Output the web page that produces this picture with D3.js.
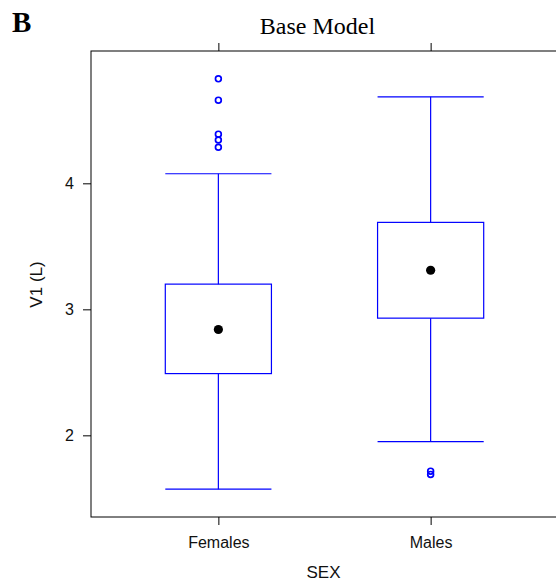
<!DOCTYPE html>
<html>
<head>
<meta charset="utf-8">
<script src="https://cdn.jsdelivr.net/npm/d3@7"></script>
<style>
  html, body { margin: 0; padding: 0; background: #fff; }
  svg { display: block; }
</style>
</head>
<body>
<div id="chart"></div>
<script>
// Box-plot summary of V1 (L) by sex
const categories = ["Females", "Males"];
const lowerWhisker = [1.573, 1.95];
const q1 = [2.49, 2.93];
const median = [2.84, 3.31];
const q3 = [3.2, 3.69];
const upperWhisker = [4.076, 4.686];
const outliersFemales = [4.829, 4.66, 4.39, 4.344, 4.286];
const outliersMales = [1.716, 1.69];
const yTicks = [2, 3, 4];

const outliers = [outliersFemales, outliersMales];

const W = 556, H = 588;
const panel = { left: 91, right: 558, top: 51, bottom: 517 };

const svg = d3.select("#chart").append("svg")
  .attr("width", W).attr("height", H);

const x = d3.scalePoint()
  .domain(categories)
  .range([panel.left, panel.right])
  .padding(0.6);

const y = d3.scaleLinear()
  .domain([1.352, 5.05])
  .range([panel.bottom, panel.top]);

const boxW = x.step() * 0.5;
const blue = "#0000ff";

// panel frame
svg.append("rect")
  .attr("x", panel.left).attr("y", panel.top)
  .attr("width", panel.right - panel.left)
  .attr("height", panel.bottom - panel.top)
  .attr("fill", "none").attr("stroke", "#000").attr("stroke-width", 1);

// left axis
const gy = svg.append("g")
  .attr("transform", `translate(${panel.left},0)`)
  .call(d3.axisLeft(y).tickValues(yTicks).tickSize(8).tickPadding(9).tickFormat(d3.format("d")));
gy.select(".domain").remove();
gy.selectAll("text").attr("font-family", "Liberation Sans, Arial, sans-serif")
  .attr("font-size", 16).attr("fill", "#111");

// bottom axis
const gx = svg.append("g")
  .attr("transform", `translate(0,${panel.bottom})`)
  .call(d3.axisBottom(x).tickSize(8).tickPadding(9));
gx.select(".domain").remove();
gx.selectAll("text").attr("font-family", "Liberation Sans, Arial, sans-serif")
  .attr("font-size", 16).attr("fill", "#111").attr("dy", "0.85em");

// top axis ticks (no labels)
const gt = svg.append("g")
  .attr("transform", `translate(0,${panel.top})`)
  .call(d3.axisTop(x).tickSize(8).tickFormat(""));
gt.select(".domain").remove();

// boxes
const boxes = svg.append("g").selectAll("g")
  .data(categories.map((c, i) => ({
    c, lo: lowerWhisker[i], q1: q1[i], med: median[i], q3: q3[i], hi: upperWhisker[i], out: outliers[i]
  })))
  .join("g");

boxes.append("line")
  .attr("x1", d => x(d.c)).attr("x2", d => x(d.c))
  .attr("y1", d => y(d.q3)).attr("y2", d => y(d.hi))
  .attr("stroke", blue).attr("stroke-width", 1.2);
boxes.append("line")
  .attr("x1", d => x(d.c)).attr("x2", d => x(d.c))
  .attr("y1", d => y(d.q1)).attr("y2", d => y(d.lo))
  .attr("stroke", blue).attr("stroke-width", 1.2);
boxes.append("line")
  .attr("x1", d => x(d.c) - boxW / 2).attr("x2", d => x(d.c) + boxW / 2)
  .attr("y1", d => y(d.hi)).attr("y2", d => y(d.hi))
  .attr("stroke", blue).attr("stroke-width", 1.2);
boxes.append("line")
  .attr("x1", d => x(d.c) - boxW / 2).attr("x2", d => x(d.c) + boxW / 2)
  .attr("y1", d => y(d.lo)).attr("y2", d => y(d.lo))
  .attr("stroke", blue).attr("stroke-width", 1.2);
boxes.append("rect")
  .attr("x", d => x(d.c) - boxW / 2).attr("width", boxW)
  .attr("y", d => y(d.q3)).attr("height", d => y(d.q1) - y(d.q3))
  .attr("fill", "none").attr("stroke", blue).attr("stroke-width", 1.2);
boxes.append("circle")
  .attr("cx", d => x(d.c)).attr("cy", d => y(d.med)).attr("r", 4.6)
  .attr("fill", "#000");
boxes.selectAll("circle.out")
  .data(d => d.out.map(v => ({ c: d.c, v })))
  .join("circle")
  .attr("class", "out")
  .attr("cx", d => x(d.c)).attr("cy", d => y(d.v)).attr("r", 2.9)
  .attr("fill", "none").attr("stroke", blue).attr("stroke-width", 1.7);

// titles and labels
svg.append("text")
  .attr("x", 317.5).attr("y", 34)
  .attr("text-anchor", "middle")
  .attr("font-family", "Liberation Serif, Times New Roman, serif")
  .attr("font-size", 24).attr("fill", "#000")
  .text("Base Model");

svg.append("text")
  .attr("x", 12).attr("y", 32)
  .attr("font-family", "Liberation Serif, Times New Roman, serif")
  .attr("font-weight", "bold")
  .attr("font-size", 29).attr("fill", "#000")
  .text("B");

svg.append("text")
  .attr("x", 323.5).attr("y", 578)
  .attr("text-anchor", "middle")
  .attr("font-family", "Liberation Sans, Arial, sans-serif")
  .attr("font-size", 17).attr("fill", "#111")
  .text("SEX");

svg.append("text")
  .attr("transform", "translate(41.5,284.5) rotate(-90)")
  .attr("text-anchor", "middle")
  .attr("font-family", "Liberation Sans, Arial, sans-serif")
  .attr("font-size", 17).attr("fill", "#111")
  .text("V1 (L)");
</script>
</body>
</html>
